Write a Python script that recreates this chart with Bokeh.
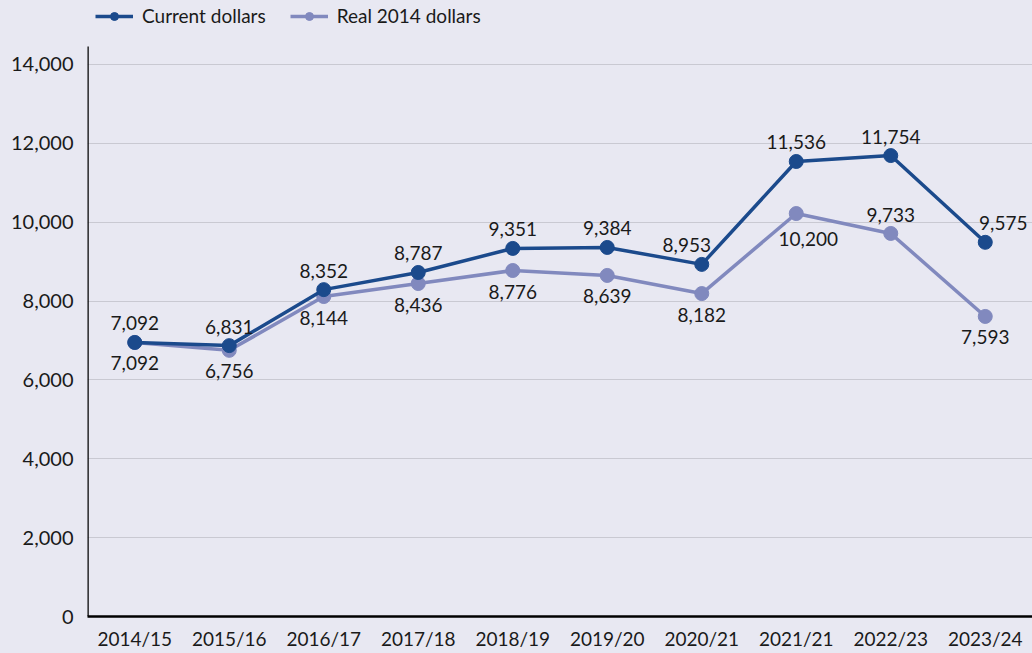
from bokeh.plotting import figure
from bokeh.models import (ColumnDataSource, LabelSet, Legend, LegendItem,
                          FixedTicker, NumeralTickFormatter, Range1d)
from bokeh.core.properties import value
from bokeh.embed import file_html
from bokeh.resources import INLINE

# ---- data ----
years = ["2014/15", "2015/16", "2016/17", "2017/18", "2018/19",
         "2019/20", "2020/21", "2021/21", "2022/23", "2023/24"]
current_labels = [7092, 6831, 8352, 8787, 9351, 9384, 8953, 11536, 11754, 9575]
real_labels = [7092, 6756, 8144, 8436, 8776, 8639, 8182, 10200, 9733, 7593]
# positions of the markers as drawn in the picture
current_points = [6950, 6870, 8290, 8725, 9335, 9360, 8930, 11540, 11690, 9490]
real_points = [6950, 6750, 8115, 8445, 8775, 8650, 8190, 10220, 9715, 7610]
y_ticks = [0, 2000, 4000, 6000, 8000, 10000, 12000, 14000]

BG = "#E8E8F2"
C_CUR = "#1B4A8C"
C_REAL = "#8189BE"
FONT = "Lato"
TXT = "#1a1a1a"

Y_TOP = 15623      # frame reaches the top of the page (room for the legend)
AXIS_TOP = 14457   # where the drawn y-axis line ends

p = figure(x_range=years, y_range=Range1d(0, Y_TOP), width=1032, height=653,
           output_backend="svg", toolbar_location=None,
           min_border_left=87, min_border_right=0, min_border_top=0, min_border_bottom=37)
p.background_fill_color = BG
p.border_fill_color = BG
p.outline_line_color = None

# axes
p.yaxis.ticker = FixedTicker(ticks=y_ticks)
p.yaxis.formatter = NumeralTickFormatter(format="0,0")
for ax in (p.xaxis[0], p.yaxis[0]):
    ax.axis_line_color = "black"
    ax.axis_line_width = 2.5
    ax.major_tick_line_color = None
    ax.minor_tick_line_color = None
    ax.major_tick_out = 0
    ax.major_tick_in = 0
    ax.major_label_text_font = FONT
    ax.major_label_text_color = TXT
p.yaxis.axis_line_color = None
p.yaxis.major_label_text_font_size = "20px"
p.xaxis.major_label_text_font_size = "19px"
p.yaxis.major_label_standoff = 14
p.xaxis.major_label_standoff = 10
p.xgrid.grid_line_color = None
p.ygrid.grid_line_color = "#C9C9D2"
p.ygrid.grid_line_width = 1

# visible y-axis line (stops a little above the top tick)
p.segment(x0=[0], y0=[0], x1=[0], y1=[AXIS_TOP], line_color="black", line_width=2.5)

# series
src_c = ColumnDataSource(dict(x=years, y=current_points,
                              t=[f"{v:,}" for v in current_labels]))
src_r = ColumnDataSource(dict(x=years, y=real_points,
                              t=[f"{v:,}" for v in real_labels]))

lr = p.line("x", "y", source=src_r, line_color=C_REAL, line_width=3.5)
sr = p.scatter("x", "y", source=src_r, size=14, fill_color=C_REAL, line_color=C_REAL)
lc = p.line("x", "y", source=src_c, line_color=C_CUR, line_width=3.5)
sc = p.scatter("x", "y", source=src_c, size=14, fill_color=C_CUR, line_color=C_CUR)

# data-label placement (screen offsets)
cur_dx = {"2020/21": -15, "2023/24": 18}
real_dx = {"2021/21": 12}
real_dy = {"2021/21": -25, "2022/23": 18}
src_c.data["dx"] = [cur_dx.get(y, 0) for y in years]
src_c.data["dy"] = [19 for y in years]
src_r.data["dx"] = [real_dx.get(y, 0) for y in years]
src_r.data["dy"] = [real_dy.get(y, -21) for y in years]

for src in (src_c, src_r):
    p.add_layout(LabelSet(x="x", y="y", text="t", source=src, x_offset="dx", y_offset="dy",
                          text_align="center", text_baseline="middle",
                          text_font=value(FONT), text_font_size="19px", text_color=TXT))

legend = Legend(items=[LegendItem(label="Current dollars", renderers=[lc, sc]),
                       LegendItem(label="Real 2014 dollars", renderers=[lr, sr])],
                orientation="horizontal", location=(8, 589),
                margin=0, padding=0, spacing=24, label_standoff=9,
                glyph_width=38, glyph_height=20, label_height=20,
                label_text_font=FONT, label_text_font_size="19px", label_text_color=TXT,
                background_fill_alpha=0, border_line_alpha=0)
p.add_layout(legend, "center")

html = file_html(p, INLINE)
html = html.replace("<head>", "<head><style>body{background:%s;}</style>" % BG, 1)
open("out.html", "w").write(html)
